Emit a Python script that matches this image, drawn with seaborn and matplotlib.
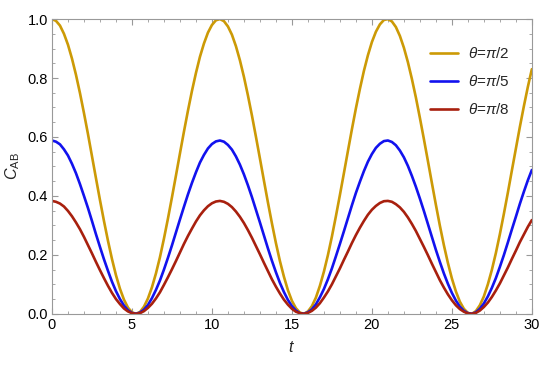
import numpy as np
import pandas as pd
import seaborn as sns
import matplotlib.pyplot as plt
from matplotlib.ticker import MultipleLocator

# tiempo (muestreo cada 0.25)
t = [0.0, 0.25, 0.5, 0.75, 1.0, 1.25, 1.5, 1.75, 2.0, 2.25, 2.5, 2.75, 3.0, 3.25, 3.5, 3.75,
     4.0, 4.25, 4.5, 4.75, 5.0, 5.25, 5.5, 5.75, 6.0, 6.25, 6.5, 6.75, 7.0, 7.25, 7.5, 7.75,
     8.0, 8.25, 8.5, 8.75, 9.0, 9.25, 9.5, 9.75, 10.0, 10.25, 10.5, 10.75, 11.0, 11.25,
     11.5, 11.75, 12.0, 12.25, 12.5, 12.75, 13.0, 13.25, 13.5, 13.75, 14.0, 14.25, 14.5,
     14.75, 15.0, 15.25, 15.5, 15.75, 16.0, 16.25, 16.5, 16.75, 17.0, 17.25, 17.5, 17.75,
     18.0, 18.25, 18.5, 18.75, 19.0, 19.25, 19.5, 19.75, 20.0, 20.25, 20.5, 20.75, 21.0,
     21.25, 21.5, 21.75, 22.0, 22.25, 22.5, 22.75, 23.0, 23.25, 23.5, 23.75, 24.0, 24.25,
     24.5, 24.75, 25.0, 25.25, 25.5, 25.75, 26.0, 26.25, 26.5, 26.75, 27.0, 27.25, 27.5,
     27.75, 28.0, 28.25, 28.5, 28.75, 29.0, 29.25, 29.5, 29.75, 30.0]

c_pi2 = [1.000, 0.994, 0.978, 0.950, 0.913, 0.866, 0.811, 0.749, 0.681, 0.610, 0.535,
         0.460, 0.386, 0.315, 0.248, 0.186, 0.131, 0.085, 0.048, 0.021, 0.005, 0.000,
         0.006, 0.024, 0.052, 0.090, 0.137, 0.192, 0.255, 0.323, 0.395, 0.469, 0.544,
         0.618, 0.689, 0.756, 0.817, 0.872, 0.917, 0.954, 0.980, 0.996, 1.000, 0.993,
         0.975, 0.947, 0.908, 0.860, 0.804, 0.741, 0.673, 0.601, 0.527, 0.452, 0.378,
         0.307, 0.240, 0.179, 0.126, 0.080, 0.044, 0.019, 0.004, 0.000, 0.008, 0.026,
         0.055, 0.095, 0.143, 0.199, 0.262, 0.331, 0.403, 0.477, 0.552, 0.626, 0.697,
         0.763, 0.824, 0.877, 0.922, 0.957, 0.982, 0.997, 1.000, 0.992, 0.973, 0.943,
         0.903, 0.854, 0.797, 0.734, 0.665, 0.593, 0.519, 0.444, 0.370, 0.299, 0.233,
         0.173, 0.120, 0.076, 0.041, 0.017, 0.003, 0.000, 0.009, 0.029, 0.059, 0.100,
         0.149, 0.206, 0.270, 0.339, 0.411, 0.486, 0.560, 0.634, 0.704, 0.770, 0.830]
c_pi5 = [0.588, 0.584, 0.575, 0.558, 0.537, 0.509, 0.477, 0.440, 0.400, 0.359, 0.315,
         0.270, 0.227, 0.185, 0.146, 0.109, 0.077, 0.050, 0.028, 0.012, 0.003, 0.000,
         0.004, 0.014, 0.030, 0.053, 0.081, 0.113, 0.150, 0.190, 0.232, 0.276, 0.320,
         0.363, 0.405, 0.444, 0.480, 0.513, 0.539, 0.561, 0.576, 0.585, 0.588, 0.584,
         0.573, 0.557, 0.534, 0.506, 0.473, 0.436, 0.396, 0.353, 0.310, 0.266, 0.222,
         0.180, 0.141, 0.105, 0.074, 0.047, 0.026, 0.011, 0.002, 0.000, 0.005, 0.015,
         0.032, 0.056, 0.084, 0.117, 0.154, 0.195, 0.237, 0.280, 0.324, 0.368, 0.410,
         0.448, 0.484, 0.516, 0.542, 0.563, 0.577, 0.586, 0.588, 0.583, 0.572, 0.554,
         0.531, 0.502, 0.468, 0.431, 0.391, 0.349, 0.305, 0.261, 0.217, 0.176, 0.137,
         0.102, 0.071, 0.045, 0.024, 0.010, 0.002, 0.000, 0.005, 0.017, 0.035, 0.059,
         0.088, 0.121, 0.159, 0.199, 0.242, 0.286, 0.329, 0.373, 0.414, 0.453, 0.488]
c_pi8 = [0.383, 0.380, 0.374, 0.364, 0.349, 0.331, 0.310, 0.287, 0.261, 0.233, 0.205,
         0.176, 0.148, 0.121, 0.095, 0.071, 0.050, 0.033, 0.018, 0.008, 0.002, 0.000,
         0.002, 0.009, 0.020, 0.034, 0.052, 0.073, 0.098, 0.124, 0.151, 0.179, 0.208,
         0.237, 0.264, 0.289, 0.313, 0.334, 0.351, 0.365, 0.375, 0.381, 0.383, 0.380,
         0.373, 0.362, 0.347, 0.329, 0.308, 0.284, 0.258, 0.230, 0.202, 0.173, 0.145,
         0.117, 0.092, 0.069, 0.048, 0.031, 0.017, 0.007, 0.002, 0.000, 0.003, 0.010,
         0.021, 0.036, 0.055, 0.076, 0.100, 0.127, 0.154, 0.183, 0.211, 0.240, 0.267,
         0.292, 0.315, 0.336, 0.353, 0.366, 0.376, 0.382, 0.383, 0.380, 0.372, 0.361,
         0.346, 0.327, 0.305, 0.281, 0.254, 0.227, 0.199, 0.170, 0.142, 0.114, 0.089,
         0.066, 0.046, 0.029, 0.016, 0.007, 0.001, 0.000, 0.003, 0.011, 0.023, 0.038,
         0.057, 0.079, 0.103, 0.130, 0.157, 0.186, 0.214, 0.243, 0.269, 0.295, 0.318]

labels = [r"$\theta$=$\pi$/2", r"$\theta$=$\pi$/5", r"$\theta$=$\pi$/8"]
colores = ["#CC9A06", "#1212EE", "#A8200E"]

df = pd.DataFrame({
    "t": t * 3,
    "C": c_pi2 + c_pi5 + c_pi8,
    "theta": [labels[0]] * len(t) + [labels[1]] * len(t) + [labels[2]] * len(t),
})

sns.set_style("ticks")
plt.rcParams['font.family'] = ['Liberation Sans', 'DejaVu Sans']
plt.rcParams['mathtext.fontset'] = 'custom'
plt.rcParams['mathtext.it'] = 'Liberation Sans:italic'
plt.rcParams['mathtext.rm'] = 'Liberation Sans'

fig, ax = plt.subplots(figsize=(5.5, 3.67), dpi=100)
fig.subplots_adjust(left=0.0945, right=0.967, top=0.948, bottom=0.145)

sns.lineplot(data=df, x="t", y="C", hue="theta", palette=colores,
             linewidth=1.9, ax=ax)

ax.set_xlim(0, 30)
ax.set_ylim(0, 1)
ax.xaxis.set_major_locator(MultipleLocator(5))
ax.xaxis.set_minor_locator(MultipleLocator(1))
ax.yaxis.set_major_locator(MultipleLocator(0.2))
ax.yaxis.set_minor_locator(MultipleLocator(0.05))
ax.tick_params(which='both', direction='in', top=True, right=True,
               color='#999999', labelsize=10.5, labelcolor='black')
ax.tick_params(which='major', length=4, width=0.8, pad=3)
ax.tick_params(which='minor', length=2.5, width=0.6)
for s in ax.spines.values():
    s.set_color('#999999')
    s.set_linewidth(0.8)

ax.set_xlabel("$t$", fontsize=11.5, labelpad=6)
ax.set_ylabel(r"$C_{\mathrm{AB}}$", fontsize=11.5, labelpad=4)

ax.legend(frameon=False, loc='upper left', bbox_to_anchor=(430 / 550, 1 - 46 / 367),
          bbox_transform=fig.transFigure, borderaxespad=0, borderpad=0,
          handlelength=1.85, handletextpad=0.65, labelspacing=0.85, fontsize=11)

fig.savefig("out.png", dpi=100)
